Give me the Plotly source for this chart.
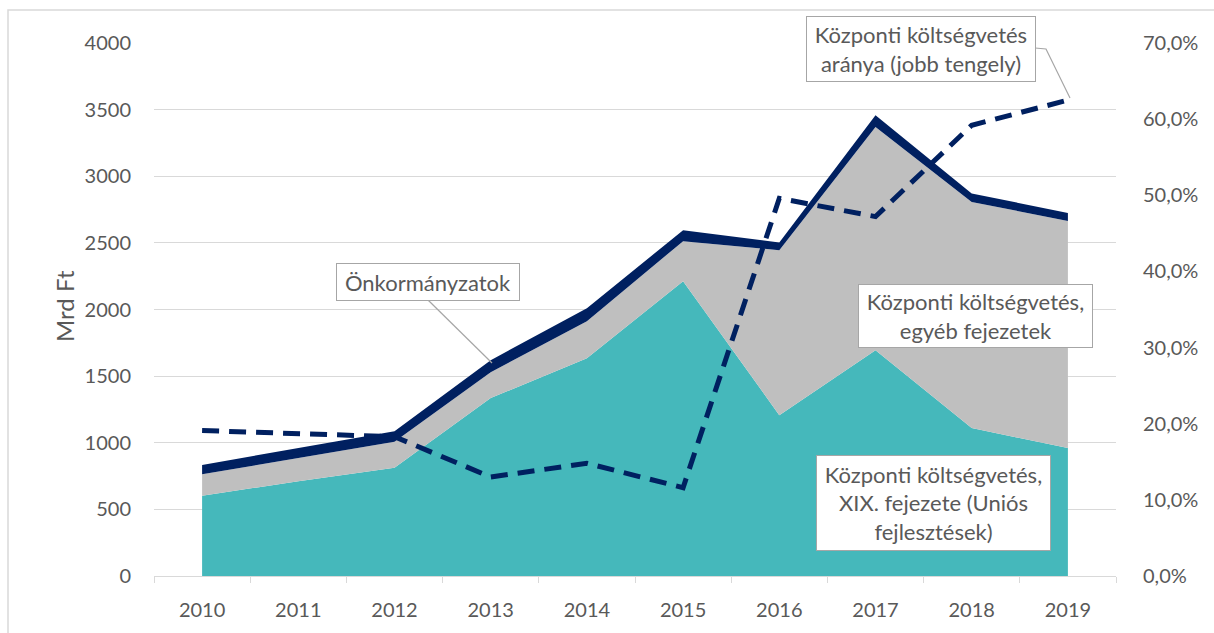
import plotly.graph_objects as go

years = [2010, 2011, 2012, 2013, 2014, 2015, 2016, 2017, 2018, 2019]
xix_fejezet = [602, 712, 812, 1335, 1635, 2212, 1207, 1695, 1110, 960]
egyeb_fejezetek = [161, 173, 195, 195, 277, 301, 1238, 1675, 1697, 1705]
onkormanyzatok = [70, 75, 80, 90, 98, 82, 58, 87, 63, 60]
kozponti_arany = [0.191, 0.187, 0.183, 0.130, 0.148, 0.116, 0.496, 0.472, 0.592, 0.625]

left_ticks = [0, 500, 1000, 1500, 2000, 2500, 3000, 3500, 4000]
right_ticks = [0, 0.1, 0.2, 0.3, 0.4, 0.5, 0.6, 0.7]
right_tick_text = ["0,0%", "10,0%", "20,0%", "30,0%", "40,0%", "50,0%", "60,0%", "70,0%"]

TEAL = "#45B8BB"
GRAY = "#BFBFBF"
NAVY = "#002060"
TXT = "#595959"
FONT = "Lato"

fig = go.Figure()
fig.add_trace(go.Scatter(x=years, y=xix_fejezet, stackgroup="a", mode="lines",
                         line=dict(width=0, color=TEAL), fillcolor=TEAL,
                         name="Központi költségvetés, XIX. fejezete (Uniós fejlesztések)"))
fig.add_trace(go.Scatter(x=years, y=egyeb_fejezetek, stackgroup="a", mode="lines",
                         line=dict(width=0, color=GRAY), fillcolor=GRAY,
                         name="Központi költségvetés, egyéb fejezetek"))
fig.add_trace(go.Scatter(x=years, y=onkormanyzatok, stackgroup="a", mode="lines",
                         line=dict(width=0, color=NAVY), fillcolor=NAVY,
                         name="Önkormányzatok"))
fig.add_trace(go.Scatter(x=years, y=kozponti_arany, yaxis="y2", mode="lines",
                         line=dict(width=5, color=NAVY, dash="17px,10px"),
                         name="Központi költségvetés aránya"))

W, H = 1214, 633
L, R, T, B = 154, 1116, 43, 576


def px(x):
    return (x - L) / (R - L)


def py(y):
    return (B - y) / (B - T)


ann_font = dict(family=FONT, size=22, color=TXT)
annotations = []
for text, cx, cy, w, h in [
    ("Központi költségvetés<br>aránya (jobb tengely)", 920.5, 49, 229, 65),
    ("Önkormányzatok", 427.5, 281.5, 183, 37),
    ("Központi költségvetés,<br>egyéb fejezetek", 975, 315.5, 234, 63),
    ("Központi költségvetés,<br>XIX. fejezete (Uniós<br>fejlesztések)", 933, 502.5, 234, 95),
]:
    annotations.append(dict(text=text, x=px(cx), y=py(cy), xref="paper", yref="paper",
                            xanchor="center", yanchor="middle", showarrow=False,
                            font=ann_font, bgcolor="white", bordercolor="#A6A6A6",
                            borderwidth=1, borderpad=0, width=w - 1, height=h - 1,
                            align="center"))

# Y axis title
annotations.append(dict(text="Mrd Ft", x=px(64), y=py(306), xref="paper", yref="paper",
                        showarrow=False, textangle=-90, font=dict(family=FONT, size=24, color=TXT),
                        xanchor="center", yanchor="middle"))

shapes = [
    # outer chart border
    dict(type="rect", xref="paper", yref="paper", x0=px(8), y0=py(10), x1=px(1240), y1=py(660),
         line=dict(color="#D9D9D9", width=1.5), fillcolor="rgba(0,0,0,0)", layer="below"),
    # leader lines
    dict(type="path", xref="paper", yref="paper",
         path=f"M {px(1035)} {py(48)} L {px(1046)} {py(49)} L {px(1070)} {py(98)}",
         line=dict(color="#A6A6A6", width=1.2)),
    dict(type="line", xref="paper", yref="paper", x0=px(428), y0=py(300), x1=px(492), y1=py(363),
         line=dict(color="#A6A6A6", width=1.2)),
]

fig.update_layout(
    width=W, height=H,
    margin=dict(l=L, r=W - R, t=T, b=H - B, pad=0),
    paper_bgcolor="white", plot_bgcolor="white",
    showlegend=False, hovermode=False,
    font=dict(family=FONT, size=20, color=TXT),
    xaxis=dict(range=[2009.5, 2019.5], tickvals=years, ticktext=[str(y) for y in years],
               showgrid=False, zeroline=False, showline=True, linecolor="#D9D9D9", linewidth=1,
               ticks="", ticklabelstandoff=16,
               minor=dict(tickmode="array", tickvals=[y - 0.5 for y in years] + [2019.5],
                          ticks="outside", ticklen=6, tickcolor="#D9D9D9", tickwidth=1, showgrid=False),
               tickfont=dict(family=FONT, size=20, color=TXT)),
    yaxis=dict(range=[0, 4000], tickvals=left_ticks, showgrid=True, gridcolor="#D9D9D9", gridwidth=1,
               zeroline=False, showline=False, ticks="", ticklabelstandoff=22,
               tickfont=dict(family=FONT, size=20, color=TXT)),
    yaxis2=dict(range=[0, 0.7], overlaying="y", side="right", tickvals=right_ticks,
                ticktext=right_tick_text, showgrid=False, zeroline=False, showline=False,
                ticks="", ticklabelstandoff=26, tickfont=dict(family=FONT, size=20, color=TXT)),
    annotations=annotations,
    shapes=shapes,
)

fig.write_html("out.html")
